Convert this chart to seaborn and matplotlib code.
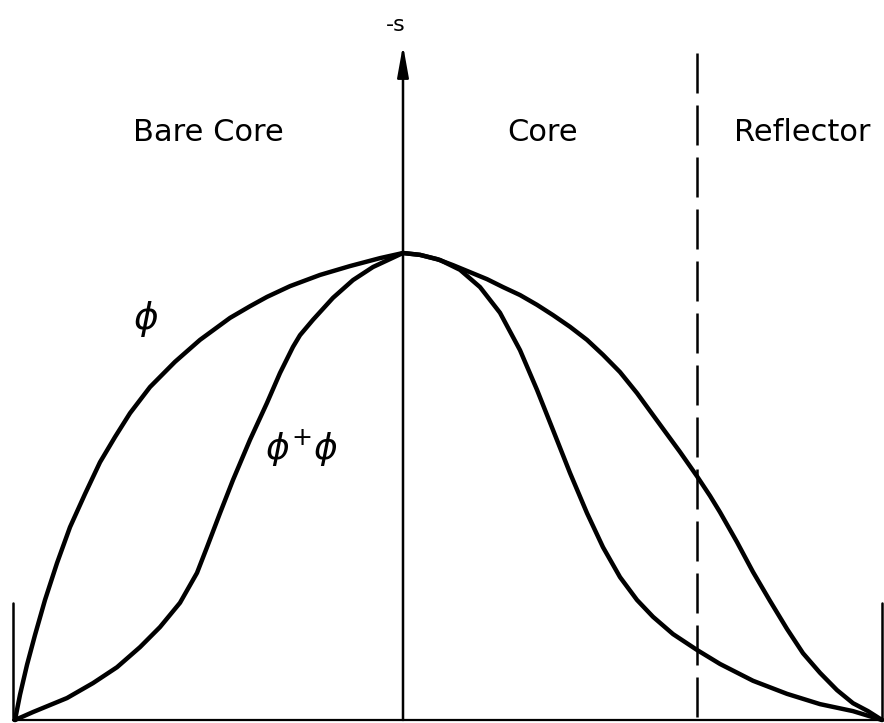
import numpy as np
import pandas as pd
import matplotlib
matplotlib.use("Agg")
import matplotlib.pyplot as plt
import seaborn as sns

# Position across the reactor (arbitrary units, 0 = centre line).
# Left half: bare core; right half: core followed by reflector.
phi_x = [-3.88, -3.83, -3.76, -3.68, -3.58, -3.46, -3.33, -3.18, -3.03, -2.88,
         -2.73, -2.53, -2.28, -2.03, -1.73, -1.53, -1.36, -1.13, -0.83, -0.53,
         -0.23, 0.0,
         0.17, 0.34, 0.50, 0.67, 0.84, 1.00, 1.17, 1.34, 1.50, 1.67, 1.84,
         2.00, 2.17, 2.34, 2.50, 2.64, 2.77, 2.94, 3.07, 3.17, 3.34, 3.50,
         3.67, 3.84, 4.00, 4.17, 4.34, 4.50, 4.65, 4.79]
phi_y = [0.0, 0.054, 0.118, 0.182, 0.257, 0.336, 0.413, 0.484, 0.552, 0.606,
         0.657, 0.713, 0.767, 0.814, 0.861, 0.886, 0.906, 0.929, 0.953, 0.972,
         0.989, 1.0,
         0.996, 0.987, 0.974, 0.959, 0.944, 0.927, 0.910, 0.889, 0.867, 0.842,
         0.814, 0.782, 0.745, 0.700, 0.653, 0.612, 0.574, 0.522, 0.480,
         0.445, 0.381, 0.317, 0.255, 0.195, 0.143, 0.101, 0.064, 0.036, 0.019, 0.0]

adj_x = [-3.88, -3.70, -3.36, -3.10, -2.86, -2.63, -2.43, -2.23, -2.06, -1.96,
         -1.83, -1.70, -1.53, -1.36, -1.23, -1.10, -1.03, -0.90, -0.70, -0.50,
         -0.30, 0.0,
         0.17, 0.37, 0.57, 0.77, 0.97, 1.17, 1.34, 1.50, 1.67, 1.84,
         2.00, 2.17, 2.34, 2.50, 2.70, 2.94, 3.17, 3.50, 3.84, 4.17, 4.50, 4.79]
adj_y = [0.0, 0.017, 0.047, 0.079, 0.113, 0.156, 0.199, 0.251, 0.315, 0.370,
         0.443, 0.514, 0.600, 0.679, 0.743, 0.799, 0.824, 0.857, 0.904, 0.942,
         0.970, 1.0,
         0.996, 0.985, 0.964, 0.927, 0.872, 0.792, 0.707, 0.621, 0.529, 0.443,
         0.370, 0.306, 0.257, 0.221, 0.184, 0.150, 0.120, 0.084, 0.056, 0.034,
         0.019, 0.0]

# Geometry of the regions
left_edge = -3.90
right_edge = 4.79
reflector_boundary = 2.94
axis_top = 1.445
dash_top = 1.428
edge_mark_height = 0.25

region_labels = ["Bare Core", "Core", "Reflector"]
region_label_x = [-1.95, 1.40, 3.99]
region_label_y = 1.259

sns.set_theme(style="white")
plt.rcParams["font.family"] = ["DejaVu Sans"]
plt.rcParams["mathtext.fontset"] = "dejavusans"
plt.rcParams["text.color"] = "black"

df = pd.concat([
    pd.DataFrame({"x": phi_x, "y": phi_y, "curve": "phi"}),
    pd.DataFrame({"x": adj_x, "y": adj_y, "curve": "adjoint_phi"}),
], ignore_index=True)

fig = plt.figure(figsize=(8.84, 7.23), dpi=100)
ax = fig.add_axes([0, 0, 1, 1])
ax.set_xlim(-4.03, 4.81)
ax.set_ylim(-3 / 467, 720 / 467)
ax.axis("off")

sns.lineplot(data=df, x="x", y="y", hue="curve", estimator=None, sort=False,
             palette={"phi": "black", "adjoint_phi": "black"}, linewidth=3.2,
             legend=False, ax=ax, solid_joinstyle="round", solid_capstyle="round")

# baseline and edge markers
ax.plot([left_edge, right_edge], [0, 0], color="black", lw=1.6)
ax.plot([left_edge, left_edge], [0, edge_mark_height], color="black", lw=1.8)
ax.plot([right_edge, right_edge], [0, edge_mark_height], color="black", lw=1.8)

# central axis with arrow
ax.annotate("", xy=(0, axis_top), xytext=(0, 0),
            arrowprops=dict(arrowstyle="-|>,head_length=0.95,head_width=0.17",
                            color="black", lw=1.8, mutation_scale=20,
                            shrinkA=0, shrinkB=0))
ax.text(-0.07, 1.489, "-s", ha="center", va="center", fontsize=16,
        color="black")

# core / reflector interface
ax.plot([reflector_boundary, reflector_boundary], [dash_top, 0], color="black",
        lw=1.8, linestyle=(0, (16, 4.8)))

for lab, lx in zip(region_labels, region_label_x):
    ax.text(lx, region_label_y, lab, ha="center", va="center", fontsize=22,
            color="black")

ax.text(-2.57, 0.859, r"$\phi$", ha="center", va="center", fontsize=27,
        color="black")
ax.text(-1.01, 0.583, r"$\phi^{+}\phi$", ha="center", va="center", fontsize=26,
        color="black")

fig.savefig("out.png", dpi=100)
